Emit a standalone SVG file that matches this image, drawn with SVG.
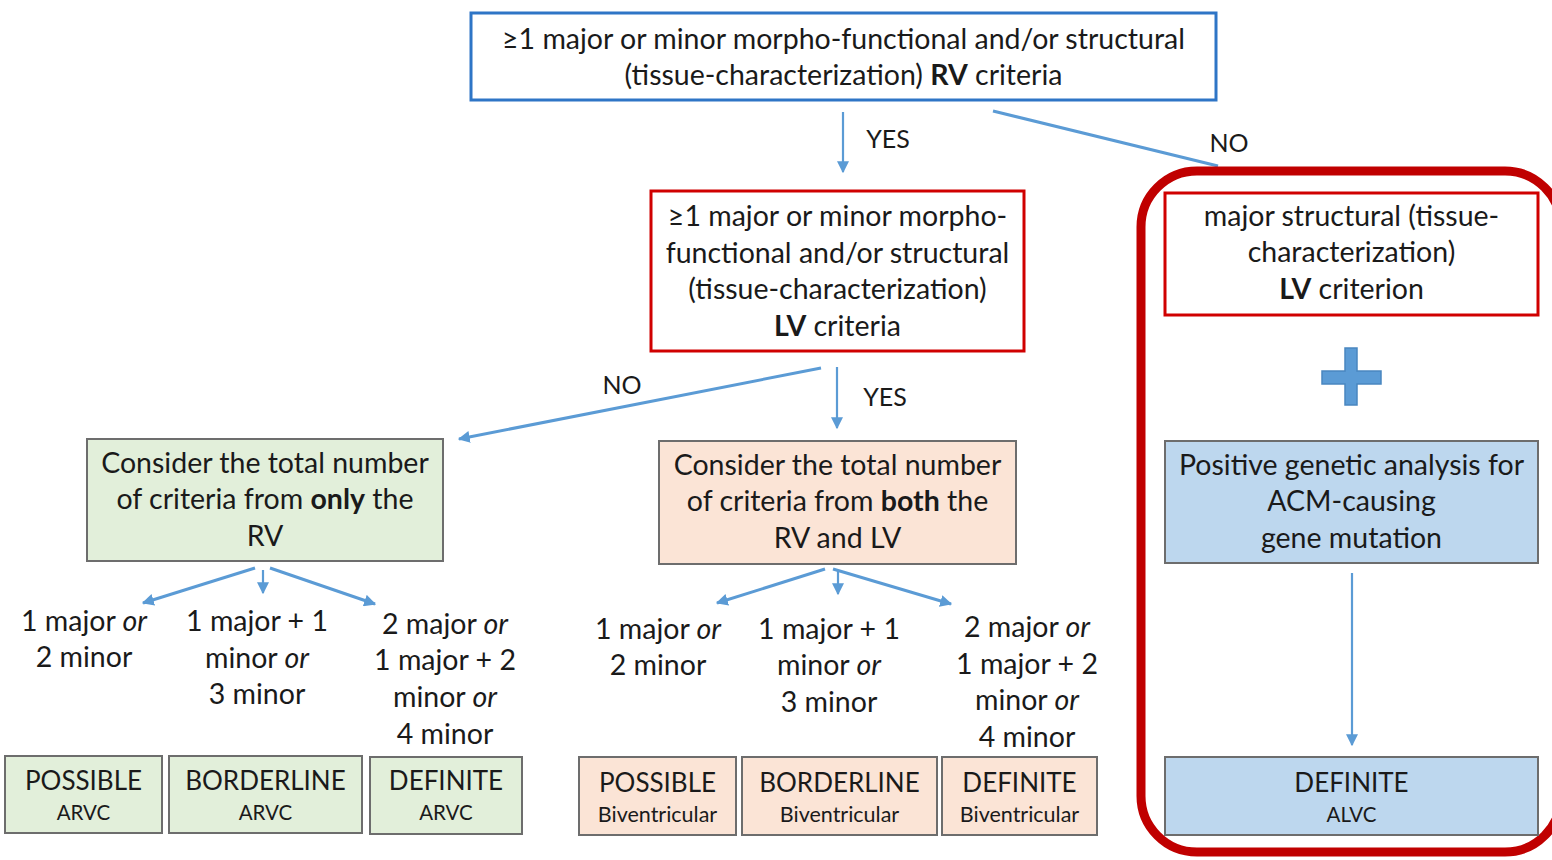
<svg xmlns="http://www.w3.org/2000/svg" width="1552" height="860" viewBox="0 0 1552 860">
  <defs>
    <marker id="ah" viewBox="0 0 10 10" refX="9" refY="5" markerWidth="12" markerHeight="12" markerUnits="userSpaceOnUse" orient="auto">
      <path d="M0,0 L10,5 L0,10 z" fill="#5B9BD5"/>
    </marker>
    <style>
      text { font-family: Lato, "Open Sans", "Liberation Sans", sans-serif; fill: #1a1a1a; text-anchor: middle; }
      .t { font-size: 28.5px; }
      .lbl { font-size: 25px; }
      .big { font-size: 26px; }
      .sm { font-size: 20.5px; }
      .bv { font-size: 21.5px; }
      .b { font-weight: bold; }
      .i { font-style: italic; }
      .conn { stroke: #5B9BD5; fill: none; stroke-width: 3; }
      .thin { stroke-width: 2.2; }
      .green { fill: #E2EFDA; stroke: #6d6d6d; stroke-width: 2; }
      .peach { fill: #FBE4D6; stroke: #6d6d6d; stroke-width: 2; }
      .blue { fill: #BDD7EE; stroke: #6d6d6d; stroke-width: 2; }
      .redbox { fill: #fff; stroke: #D00000; stroke-width: 3; }
    </style>
  </defs>

  <!-- connectors -->
  <g id="connectors">
    <line class="conn thin" x1="843" y1="112" x2="843" y2="172" marker-end="url(#ah)"/>
    <line class="conn" x1="993" y1="111" x2="1218" y2="166"/>
    <line class="conn" x1="821" y1="368" x2="459" y2="439" marker-end="url(#ah)"/>
    <line class="conn thin" x1="837" y1="367" x2="837" y2="428" marker-end="url(#ah)"/>
    <line class="conn" x1="255" y1="568" x2="143" y2="603" marker-end="url(#ah)"/>
    <line class="conn thin" x1="263" y1="570" x2="263" y2="593" marker-end="url(#ah)"/>
    <line class="conn" x1="270" y1="568" x2="375" y2="604" marker-end="url(#ah)"/>
    <line class="conn" x1="825" y1="569" x2="717" y2="603" marker-end="url(#ah)"/>
    <line class="conn thin" x1="838" y1="570" x2="838" y2="594" marker-end="url(#ah)"/>
    <line class="conn" x1="833" y1="569" x2="951" y2="604" marker-end="url(#ah)"/>
    <line class="conn thin" x1="1352" y1="573" x2="1352" y2="745" marker-end="url(#ah)"/>
    <text class="lbl" x="888" y="148">YES</text>
    <text class="lbl" x="1229" y="152">NO</text>
    <text class="lbl" x="622" y="394">NO</text>
    <text class="lbl" x="885" y="406">YES</text>
  </g>

  <!-- RV criteria question -->
  <g id="rv-criteria">
    <rect x="471" y="13" width="745" height="87" fill="#fff" stroke="#2E75C6" stroke-width="3"/>
    <text class="t" x="843.5" y="49">≥1 major or minor morpho-functional and/or structural</text>
    <text class="t" x="843.5" y="85">(tissue-characterization) <tspan class="b">RV</tspan> criteria</text>
  </g>

  <!-- LV criteria question -->
  <g id="lv-criteria">
    <rect class="redbox" x="651" y="191" width="373" height="160"/>
    <text class="t" x="837.5" y="226">≥1 major or minor morpho-</text>
    <text class="t" x="837.5" y="263">functional and/or structural</text>
    <text class="t" x="837.5" y="299">(tissue-characterization)</text>
    <text class="t" x="837.5" y="336"><tspan class="b">LV</tspan> criteria</text>
  </g>

  <!-- RV-only branch -->
  <g id="rv-only">
    <rect class="green" x="87" y="439" width="356" height="122"/>
    <text class="t" x="265" y="473">Consider the total number</text>
    <text class="t" x="265" y="509">of criteria from <tspan class="b">only</tspan> the</text>
    <text class="t" x="265" y="546">RV</text>
  </g>
  <g id="rv-count-1">
    <text class="t" x="84" y="631">1 major <tspan class="i">or</tspan></text>
    <text class="t" x="84" y="667">2 minor</text>
  </g>
  <g id="rv-count-2">
    <text class="t" x="257" y="631">1 major + 1</text>
    <text class="t" x="257" y="668">minor <tspan class="i">or</tspan></text>
    <text class="t" x="257" y="704">3 minor</text>
  </g>
  <g id="rv-count-3">
    <text class="t" x="445" y="634">2 major <tspan class="i">or</tspan></text>
    <text class="t" x="445" y="670">1 major + 2</text>
    <text class="t" x="445" y="707">minor <tspan class="i">or</tspan></text>
    <text class="t" x="445" y="744">4 minor</text>
  </g>
  <g id="possible-arvc">
    <rect class="green" x="5" y="756" width="157" height="77"/>
    <text class="big" x="83.5" y="790">POSSIBLE</text>
    <text class="sm" x="83.5" y="820">ARVC</text>
  </g>
  <g id="borderline-arvc">
    <rect class="green" x="169" y="756" width="193" height="77"/>
    <text class="big" x="265.5" y="790">BORDERLINE</text>
    <text class="sm" x="265.5" y="820">ARVC</text>
  </g>
  <g id="definite-arvc">
    <rect class="green" x="370" y="757" width="152" height="77"/>
    <text class="big" x="446" y="790">DEFINITE</text>
    <text class="sm" x="446" y="820">ARVC</text>
  </g>

  <!-- RV and LV branch -->
  <g id="rv-and-lv">
    <rect class="peach" x="659" y="441" width="357" height="123"/>
    <text class="t" x="837.5" y="475">Consider the total number</text>
    <text class="t" x="837.5" y="511">of criteria from <tspan class="b">both</tspan> the</text>
    <text class="t" x="837.5" y="548">RV and LV</text>
  </g>
  <g id="bv-count-1">
    <text class="t" x="658" y="639">1 major <tspan class="i">or</tspan></text>
    <text class="t" x="658" y="675">2 minor</text>
  </g>
  <g id="bv-count-2">
    <text class="t" x="829" y="639">1 major + 1</text>
    <text class="t" x="829" y="675">minor <tspan class="i">or</tspan></text>
    <text class="t" x="829" y="712">3 minor</text>
  </g>
  <g id="bv-count-3">
    <text class="t" x="1027" y="637">2 major <tspan class="i">or</tspan></text>
    <text class="t" x="1027" y="674">1 major + 2</text>
    <text class="t" x="1027" y="710">minor <tspan class="i">or</tspan></text>
    <text class="t" x="1027" y="747">4 minor</text>
  </g>
  <g id="possible-bv">
    <rect class="peach" x="579" y="757" width="157" height="78"/>
    <text class="big" x="657.5" y="792">POSSIBLE</text>
    <text class="bv" x="657.5" y="822">Biventricular</text>
  </g>
  <g id="borderline-bv">
    <rect class="peach" x="742" y="757" width="195" height="78"/>
    <text class="big" x="839.5" y="792">BORDERLINE</text>
    <text class="bv" x="839.5" y="822">Biventricular</text>
  </g>
  <g id="definite-bv">
    <rect class="peach" x="942" y="757" width="155" height="78"/>
    <text class="big" x="1019.5" y="792">DEFINITE</text>
    <text class="bv" x="1019.5" y="822">Biventricular</text>
  </g>

  <!-- ALVC pathway -->
  <g id="alvc-frame">
    <rect x="1141" y="171" width="420" height="681" rx="56" ry="56" fill="none" stroke="#C00000" stroke-width="9"/>
  </g>
  <g id="lv-criterion">
    <rect class="redbox" x="1165" y="193" width="373" height="122"/>
    <text class="t" x="1351.5" y="226">major structural (tissue-</text>
    <text class="t" x="1351.5" y="262">characterization)</text>
    <text class="t" x="1351.5" y="299"><tspan class="b">LV</tspan> criterion</text>
  </g>
  <g id="plus">
    <path d="M1345,348 h12 v23 h24 v13 h-24 v21 h-12 v-21 h-23 v-13 h23 z" fill="#5B9BD5" stroke="#4A87C0" stroke-width="1.5"/>
  </g>
  <g id="genetic">
    <rect class="blue" x="1165" y="441" width="373" height="122"/>
    <text class="t" x="1351.5" y="475">Positive genetic analysis for</text>
    <text class="t" x="1351.5" y="511">ACM-causing</text>
    <text class="t" x="1351.5" y="548">gene mutation</text>
  </g>
  <g id="definite-alvc">
    <rect class="blue" x="1165" y="757" width="373" height="78"/>
    <text class="big" x="1351.5" y="792">DEFINITE</text>
    <text class="sm" x="1351.5" y="822">ALVC</text>
  </g>
</svg>
